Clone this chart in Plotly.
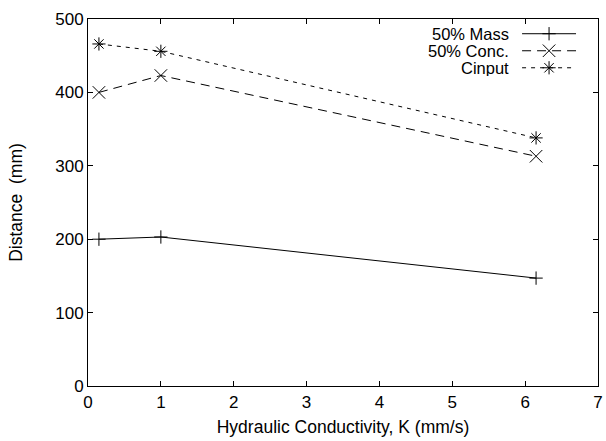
import plotly.graph_objects as go

# Data
k_values = [0.15, 1.0, 6.15]
mass_50 = [200, 203, 147]
conc_50 = [400, 423, 313]
cinput = [466, 456, 338]

series_names = ["50% Mass", "50% Conc.", "Cinput"]
x_ticks = [0, 1, 2, 3, 4, 5, 6, 7]
y_ticks = [0, 100, 200, 300, 400, 500]
x_range = [0, 7]
y_range = [0, 500]

FONT = "Liberation Sans, Arial, Helvetica, sans-serif"
FS = 17
styles = [
    dict(symbol="cross-thin", size=9.5, dash="solid"),
    dict(symbol="x-thin", size=12.5, dash="9px,6px"),
    dict(symbol="asterisk-open", size=11, dash="4px,5px"),
]
series = [mass_50, conc_50, cinput]

# plot-area geometry in pixels
L, R, T, B = 87.5, 598, 19.3, 385.7


def px_to_x(px):
    return x_range[0] + (px - L) / (R - L) * (x_range[1] - x_range[0])


def px_to_y(py):
    return y_range[0] + (B - py) / (B - T) * (y_range[1] - y_range[0])


fig = go.Figure()
for name, vals, st in zip(series_names, series, styles):
    fig.add_trace(go.Scatter(
        x=k_values, y=vals, mode="lines+markers", name=name,
        line=dict(color="black", width=1, dash=st["dash"]),
        marker=dict(symbol=st["symbol"], size=st["size"], color="black",
                    line=dict(color="black", width=1)),
        showlegend=False,
    ))

# Gnuplot-style key: text right-aligned, sample line + marker to its right
row_y = [34, 51, 68]
for name, st, yy in zip(series_names, styles, row_y):
    fig.add_trace(go.Scatter(
        x=[px_to_x(522), px_to_x(576)], y=[px_to_y(yy), px_to_y(yy)],
        mode="lines", line=dict(color="black", width=1, dash=st["dash"]),
        showlegend=False, hoverinfo="skip", cliponaxis=False,
    ))
    fig.add_trace(go.Scatter(
        x=[px_to_x(549)], y=[px_to_y(yy)], mode="markers",
        marker=dict(symbol=st["symbol"], size=st["size"], color="black",
                    line=dict(color="black", width=1)),
        showlegend=False, hoverinfo="skip", cliponaxis=False,
    ))
    fig.add_annotation(x=px_to_x(510), y=px_to_y(yy), xref="x", yref="y",
                       text=name, showarrow=False, xanchor="right",
                       yanchor="middle", borderpad=0, height=16,
                       font=dict(family=FONT, size=16.5, color="black"))

axis_common = dict(
    showline=True, linecolor="black", linewidth=1, mirror="ticks",
    ticks="inside", ticklen=5, tickcolor="black", tickwidth=1,
    showgrid=False, zeroline=False,
    tickfont=dict(family=FONT, size=FS, color="black"),
)

fig.update_layout(
    width=606, height=441,
    margin=dict(l=L, r=606 - R, t=T, b=441 - B, autoexpand=False),
    paper_bgcolor="white", plot_bgcolor="white",
    font=dict(family=FONT, size=FS, color="black"),
    xaxis=dict(range=x_range, tickvals=x_ticks, ticklabelstandoff=1,
               title=dict(text="Hydraulic Conductivity, K (mm/s)", standoff=9,
                          font=dict(family=FONT, size=17.5)),
               **axis_common),
    yaxis=dict(range=y_range, tickvals=y_ticks,
               title=dict(text="Distance&nbsp;&nbsp;(mm)", standoff=28,
                          font=dict(family=FONT, size=17.5)),
               **axis_common),
)

fig.write_html("out.html", config={"displayModeBar": False},
               post_script="document.body.style.margin='0';document.body.style.overflow='hidden';")
